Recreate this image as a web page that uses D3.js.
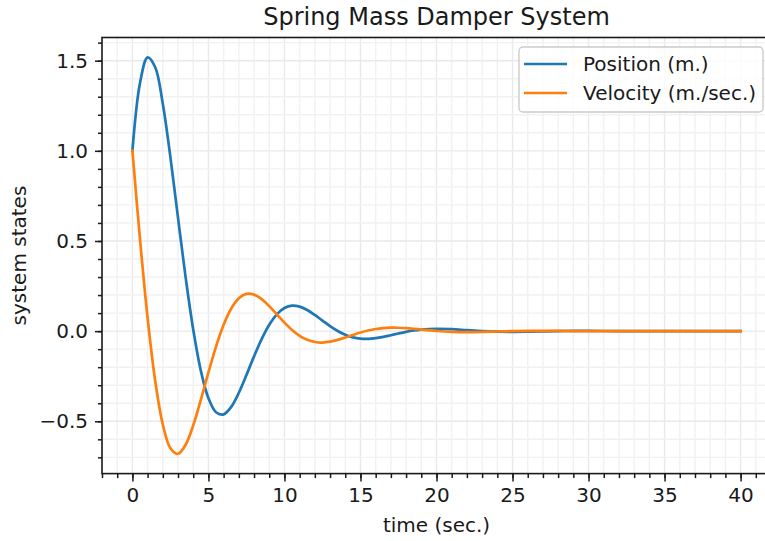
<!DOCTYPE html>
<html>
<head>
<meta charset="utf-8">
<script src="https://cdn.jsdelivr.net/npm/d3@7"></script>
<style>
  html, body { margin: 0; padding: 0; background: #fff; }
  svg { display: block; }
  text { font-family: "DejaVu Sans", sans-serif; fill: #1a1a1a; }
</style>
</head>
<body>
<svg id="chart" width="765" height="541"></svg>
<script>
// ---- data ----
const time = [0,0.5,1,1.5,2,2.5,3,3.5,4,4.5,5,5.5,6,6.5,7,7.5,8,8.5,9,9.5,10,10.5,11,11.5,12,12.5,13,13.5,14,14.5,15,15.5,16,16.5,17,17.5,18,18.5,19,19.5,20,21,22,23,24,25,26,27,28,29,30,31,32,33,34,35,36,37,38,39,40];
const position = [1.0,1.3762,1.5186,1.4632,1.2600,0.9638,0.6280,0.2984,0.0086,-0.2194,-0.3718,-0.4499,-0.4614,-0.4199,-0.3416,-0.2432,-0.1399,-0.0443,0.0351,0.0931,0.1281,0.1413,0.1361,0.1172,0.0896,0.0584,0.0277,0.0008,-0.0204,-0.0346,-0.0419,-0.0429,-0.0391,-0.0318,-0.0226,-0.0130,-0.0041,0.0033,0.0087,0.0119,0.0132,0.0109,0.0054,0.0001,-0.0032,-0.0040,-0.0030,-0.0012,0.0003,0.0011,0.0012,0.0008,0.0002,-0.0002,-0.0004,-0.0003,-0.0002,0.0000,0.0001,0.0001,0.0001];
const velocity = [1.0,0.5097,0.0721,-0.2762,-0.5178,-0.6491,-0.6802,-0.6301,-0.5224,-0.3807,-0.2290,-0.0858,0.0351,0.1253,0.1821,0.2063,0.2025,0.1774,0.1385,0.0930,0.0474,0.0067,-0.0257,-0.0482,-0.0604,-0.0633,-0.0586,-0.0486,-0.0354,-0.0213,-0.0080,0.0033,0.0117,0.0169,0.0192,0.0188,0.0165,0.0129,0.0087,0.0044,0.0006,-0.0045,-0.0059,-0.0045,-0.0020,0.0003,0.0016,0.0018,0.0012,0.0004,-0.0002,-0.0005,-0.0005,-0.0003,-0.0001,0.0001,0.0002,0.0001,0.0001,0.0000,0.0000];
const seriesNames = ["Position (m.)", "Velocity (m./sec.)"];
const xTicks = [0,5,10,15,20,25,30,35,40];
const yTicks = [-0.5,0.0,0.5,1.0,1.5];
const titleText = "Spring Mass Damper System";
const xLabel = "time (sec.)";
const yLabel = "system states";

// ---- layout ----
const W = 765, H = 541;
const m = { left: 102, right: 771, top: 37.5, bottom: 473.6 };
const colors = ["#1f77b4", "#ff7f0e"];
const svg = d3.select("#chart");

const xExt = d3.extent(time);
const yExt = d3.extent(position.concat(velocity));
const xPad = (xExt[1] - xExt[0]) * 0.05, yPad = (yExt[1] - yExt[0]) * 0.05;
const x = d3.scaleLinear().domain([xExt[0] - xPad, xExt[1] + xPad]).range([m.left, m.right]);
const y = d3.scaleLinear().domain([yExt[0] - yPad, yExt[1] + yPad]).range([m.bottom, m.top]);

const xMinor = d3.range(Math.ceil(x.domain()[0]), Math.floor(x.domain()[1]) + 1, 1);
const yMinor = d3.range(Math.ceil(y.domain()[0] * 10), Math.floor(y.domain()[1] * 10) + 1).map(d => d / 10);

svg.append("defs").append("clipPath").attr("id", "clip")
  .append("rect").attr("x", m.left).attr("y", m.top)
  .attr("width", m.right - m.left).attr("height", m.bottom - m.top);

// grid
const grid = svg.append("g").attr("clip-path", "url(#clip)");
grid.selectAll(".gxm").data(xMinor).join("line")
  .attr("x1", d => x(d)).attr("x2", d => x(d)).attr("y1", m.top).attr("y2", m.bottom)
  .attr("stroke", d => xTicks.includes(d) ? "#e9e9e9" : "#f1f1f1").attr("stroke-width", 1.4);
grid.selectAll(".gym").data(yMinor).join("line")
  .attr("y1", d => y(d)).attr("y2", d => y(d)).attr("x1", m.left).attr("x2", m.right)
  .attr("stroke", d => yTicks.some(t => Math.abs(t - d) < 1e-9) ? "#e9e9e9" : "#f1f1f1").attr("stroke-width", 1.4);

// lines
const rows = time.map((t, i) => ({ t, p: position[i], v: velocity[i] }));
const lineGen = key => d3.line().x(d => x(d.t)).y(d => y(d[key])).curve(d3.curveCatmullRom.alpha(0.5));
const plot = svg.append("g").attr("clip-path", "url(#clip)");
plot.append("path").datum(rows).attr("d", lineGen("p"))
  .attr("fill", "none").attr("stroke", colors[0]).attr("stroke-width", 2.7).attr("stroke-linejoin", "round").attr("stroke-linecap", "square");
plot.append("path").datum(rows).attr("d", lineGen("v"))
  .attr("fill", "none").attr("stroke", colors[1]).attr("stroke-width", 2.7).attr("stroke-linejoin", "round").attr("stroke-linecap", "square");

// axes
const fmtX = d3.format("d"), fmtY = d3.format(".1f");
const gx = svg.append("g").attr("transform", `translate(0,${m.bottom})`);
gx.call(d3.axisBottom(x).tickValues(xMinor).tickSize(4.5).tickFormat(""));
gx.call(g => g.select(".domain").remove());
const gx2 = svg.append("g").attr("transform", `translate(0,${m.bottom})`);
gx2.call(d3.axisBottom(x).tickValues(xTicks).tickSize(8).tickPadding(6).tickFormat(fmtX));
gx2.select(".domain").remove();

const gy = svg.append("g").attr("transform", `translate(${m.left},0)`);
gy.call(d3.axisLeft(y).tickValues(yMinor).tickSize(4).tickFormat(""));
gy.select(".domain").remove();
const gy2 = svg.append("g").attr("transform", `translate(${m.left},0)`);
gy2.call(d3.axisLeft(y).tickValues(yTicks).tickSize(7).tickPadding(7).tickFormat(fmtY));
gy2.select(".domain").remove();

svg.selectAll(".tick line").attr("stroke", "#1a1a1a").attr("stroke-width", 1.5);
svg.selectAll(".tick text").attr("font-family", "DejaVu Sans").attr("font-size", 20).attr("fill", "#1a1a1a");

// spines
svg.append("rect").attr("x", m.left).attr("y", m.top)
  .attr("width", m.right - m.left).attr("height", m.bottom - m.top)
  .attr("fill", "none").attr("stroke", "#1a1a1a").attr("stroke-width", 1.6);

// title & labels
svg.append("text").attr("x", (m.left + m.right) / 2).attr("y", 25)
  .attr("text-anchor", "middle").attr("font-size", 24).text(titleText);
svg.append("text").attr("x", (m.left + m.right) / 2).attr("y", 532)
  .attr("text-anchor", "middle").attr("font-size", 20).text(xLabel);
svg.append("text").attr("transform", `translate(26,${(m.top + m.bottom) / 2}) rotate(-90)`)
  .attr("text-anchor", "middle").attr("font-size", 20).text(yLabel);

// legend
const lg = svg.append("g");
const lx = 519, ly = 47, lw = 244, lh = 65;
lg.append("rect").attr("x", lx).attr("y", ly).attr("width", lw).attr("height", lh)
  .attr("rx", 4).attr("fill", "#fff").attr("fill-opacity", 0.8).attr("stroke", "#cccccc").attr("stroke-width", 1.4);
seriesNames.forEach((name, i) => {
  const yy = ly + 17 + i * 29;
  lg.append("line").attr("x1", lx + 5).attr("x2", lx + 48).attr("y1", yy).attr("y2", yy)
    .attr("stroke", colors[i]).attr("stroke-width", 2.7);
  lg.append("text").attr("x", lx + 64).attr("y", yy).attr("dy", "0.35em")
    .attr("font-size", 20).text(name);
});
</script>
</body>
</html>
